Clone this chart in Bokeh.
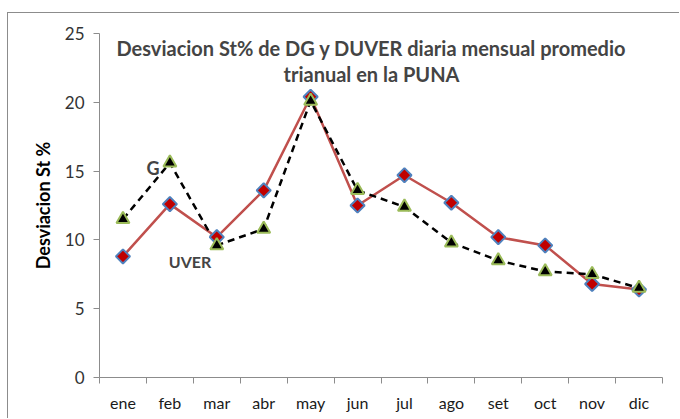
import math
from bokeh.plotting import figure
from bokeh.models import Label, FixedTicker
from bokeh.embed import file_html
from bokeh.resources import INLINE

months = ["ene", "feb", "mar", "abr", "may", "jun", "jul", "ago", "set", "oct", "nov", "dic"]
uver = [8.8, 12.6, 10.2, 13.6, 20.4, 12.5, 14.7, 12.7, 10.2, 9.6, 6.8, 6.4]
g = [11.5, 15.6, 9.6, 10.8, 20.1, 13.6, 12.4, 9.8, 8.5, 7.7, 7.5, 6.5]
y_ticks = [0, 5, 10, 15, 20, 25]
title_lines = ["Desviacion St% de DG y DUVER diaria mensual promedio", "trianual en la PUNA"]
y_label = "Desviacion St %"

xs = list(range(1, len(months) + 1))
FONT = "Lato"

p = figure(width=672, height=406, output_backend="svg", toolbar_location=None,
           x_range=(0.5, len(months) + 0.5), y_range=(0, 25))
p.min_border_left = 91
p.min_border_right = 18
p.min_border_top = 20
p.min_border_bottom = 42
p.outline_line_color = None
p.xgrid.visible = False
p.ygrid.visible = False
p.styles = {"border-left": "1px solid #8c8c8c", "border-top": "1px solid #8c8c8c",
            "margin-top": "12px", "margin-left": "7px"}

# axes
p.xaxis.ticker = FixedTicker(ticks=xs, minor_ticks=[x - 0.5 for x in xs] + [xs[-1] + 0.5])
p.xaxis.major_label_overrides = {x: m for x, m in zip(xs, months)}
p.xaxis.major_tick_out = 0
p.xaxis.major_tick_in = 0
p.xaxis.minor_tick_out = 6
p.xaxis.minor_tick_in = 0
p.xaxis.minor_tick_line_color = "#8c8c8c"
p.xaxis.axis_line_color = "#8c8c8c"
p.xaxis.major_label_standoff = 9
p.xaxis.major_label_text_font = FONT
p.xaxis.major_label_text_font_size = "16px"
p.xaxis.major_label_text_color = "#1a1a1a"

p.yaxis.ticker = FixedTicker(ticks=y_ticks)
p.yaxis.minor_tick_line_color = None
p.yaxis.major_tick_out = 6
p.yaxis.major_tick_in = 0
p.yaxis.major_tick_line_color = "#8c8c8c"
p.yaxis.axis_line_color = "#8c8c8c"
p.yaxis.major_label_standoff = 9
p.yaxis.major_label_text_font = FONT
p.yaxis.major_label_text_font_size = "17px"
p.yaxis.major_label_text_color = "#333333"
p.yaxis.axis_label = y_label
p.yaxis.axis_label_text_font = FONT
p.yaxis.axis_label_text_font_size = "18px"
p.yaxis.axis_label_text_font_style = "bold"
p.yaxis.axis_label_text_color = "#000000"
p.yaxis.axis_label_standoff = 8

# series
p.line(xs, uver, line_color="#C0504D", line_width=2.5)
p.line(xs, g, line_color="black", line_width=2.5, line_dash="7 5")
p.scatter(xs, uver, marker="square", angle=math.pi / 4, size=10, fill_color="#C00000",
          line_color="#4F81BD", line_width=2)
p.scatter(xs, g, marker="triangle", size=13, fill_color="black",
          line_color="#9BBB59", line_width=2)

# annotations
p.add_layout(Label(x=1.64, y=15.2, text="G", text_font=FONT, text_font_size="18px",
                   text_font_style="bold", text_align="center", text_baseline="middle"))
p.add_layout(Label(x=2.43, y=8.4, text="UVER", text_font=FONT, text_font_size="16px",
                   text_font_style="bold", text_align="center", text_baseline="middle"))

# title inside plot
for i, t in enumerate(title_lines):
    p.add_layout(Label(x=272, y=330 - i * 26, x_units="screen", y_units="screen", text=t,
                       text_font=FONT, text_font_size="20px", text_font_style="bold",
                       text_align="center", text_baseline="middle"))

open("out.html", "w").write(file_html(p, INLINE))
